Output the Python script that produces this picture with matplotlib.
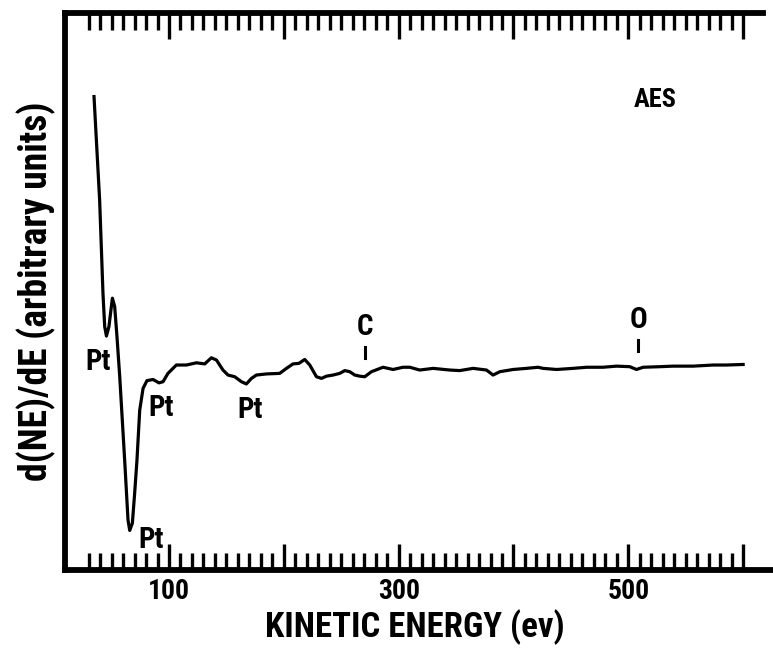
import matplotlib
matplotlib.use("Agg")
import matplotlib.pyplot as plt
from matplotlib import font_manager as fm

fonts = fm.fontManager.ttflist
names = {f.name for f in fonts}
STRETCH = 'normal'
if "Liberation Sans Narrow" in names:
    FONT = "Liberation Sans Narrow"
elif "Roboto Condensed" in names:
    FONT = "Roboto Condensed"
elif any(f.name == "DejaVu Sans" and str(f.stretch) in ("condensed", "semi-condensed") for f in fonts):
    FONT = "DejaVu Sans"
    STRETCH = 'condensed'
else:
    FONT = "Liberation Sans"
plt.rcParams['font.family'] = [FONT, 'DejaVu Sans']
plt.rcParams['font.weight'] = 'bold'
plt.rcParams['font.stretch'] = STRETCH

# Spectrum: kinetic energy (eV) and d(NE)/dE (arbitrary units)
energy = [34.7, 39.6, 42.5, 44.0, 45.5, 47.7, 50.7, 52.7, 54.7, 57.1, 61.4, 64.3,
          65.8, 68.1, 70.1, 72.1, 74.5, 77.4, 80.8, 86.1, 91.3, 94.8, 99.1, 106.4,
          115.2, 123.9, 131.1, 136.9, 141.3, 147.0, 151.4, 157.2, 163.1, 167.4,
          171.8, 176.1, 184.8, 196.4, 202.3, 208.0, 213.2, 218.2, 222.6, 228.4,
          232.8, 237.1, 242.9, 248.7, 253.1, 257.4, 261.8, 266.1, 270.5, 276.3,
          286.4, 295.1, 303.8, 309.7, 318.4, 330.0, 344.5, 353.2, 364.8, 376.5,
          382.2, 388.1, 399.7, 411.3, 421.4, 425.8, 437.5, 451.9, 463.6, 478.0,
          489.7, 501.3, 507.1, 512.9, 527.4, 539.0, 556.4, 573.9, 585.5, 600.0]
signal = [85.0, 66.4, 49.7, 43.7, 42.0, 43.7, 48.8, 47.3, 41.9, 34.7, 19.7, 9.0,
          7.1, 8.4, 13.8, 19.7, 28.7, 32.6, 34.0, 34.2, 33.6, 33.8, 35.3, 36.8,
          36.8, 37.2, 37.0, 38.1, 37.7, 35.9, 35.0, 34.7, 33.8, 33.4,
          34.4, 35.0, 35.2, 35.3, 36.2, 37.0, 37.1, 37.8, 36.8, 34.7,
          34.4, 34.8, 35.0, 35.3, 35.8, 35.6, 35.0, 34.8, 34.7, 35.6,
          36.4, 36.0, 36.4, 36.4, 35.9, 36.2, 35.9, 35.8, 36.2, 35.9,
          35.0, 35.6, 36.0, 36.2, 36.4, 36.2, 36.0, 36.2, 36.4, 36.4,
          36.6, 36.5, 36.0, 36.4, 36.5, 36.6, 36.6, 36.8, 36.8, 36.9]

pt_labels = ["Pt", "Pt", "Pt", "Pt"]
pt_x = [38.2, 93.4, 170.3, 84.7]
pt_y = [37.4, 29.0, 28.7, 5.4]

elem_labels = ["C", "O"]
elem_x = [271.0, 508.5]
elem_label_y = [43.7, 44.9]
elem_tick_top = [40.1, 41.3]
elem_tick_bot = [38.0, 39.4]

major_ticks = [100, 200, 300, 400, 500, 600]
major_text = ["100", "", "300", "", "500", ""]
minor_ticks = list(range(30, 601, 10))

W, H = 773, 653
fig = plt.figure(figsize=(W / 100, H / 100), dpi=100)
ax = fig.add_axes([64.5 / W, 1 - 570 / H, 1 - 64.5 / W, (570 - 13) / H])

ax.plot(energy, signal, color='black', lw=2.3, solid_joinstyle='round')

ax.set_xlim(9, 626)
ax.set_ylim(0, 100)

for s in ['left', 'top', 'bottom']:
    ax.spines[s].set_linewidth(4.2)
ax.spines['right'].set_visible(False)
ax.spines['top'].set_bounds(9, 617)

ax.set_xticks(minor_ticks, minor=True)
ax.set_xticks(major_ticks)
ax.set_xticklabels(major_text)
ax.tick_params(axis='x', which='major', direction='in', length=19, width=2.4,
               top=True, bottom=True, labelsize=20, pad=6)
ax.tick_params(axis='x', which='minor', direction='in', length=12, width=2.4,
               top=True, bottom=True)
ax.set_yticks([])

ax.set_xlabel("KINETIC ENERGY (ev)", fontsize=25, fontweight='bold', va='baseline')
ax.xaxis.set_label_coords((415 - 64.5) / (W - 64.5), -(637 - 570) / (570 - 13))
ax.set_ylabel("d(NE)/dE (arbitrary units)", fontsize=27, fontweight='bold', labelpad=6)

for t, x, y in zip(pt_labels, pt_x, pt_y):
    ax.text(x, y, t, fontsize=21, ha='center', va='center', fontweight='bold')
for t, x, y, y0, y1 in zip(elem_labels, elem_x, elem_label_y, elem_tick_top, elem_tick_bot):
    ax.text(x, y, t, fontsize=21, ha='center', va='center', fontweight='bold')
    ax.plot([x, x], [y1, y0], color='black', lw=2.2)
ax.text(523, 84.4, "AES", fontsize=19, ha='center', va='center', fontweight='bold')

fig.savefig("out.png", dpi=100)
